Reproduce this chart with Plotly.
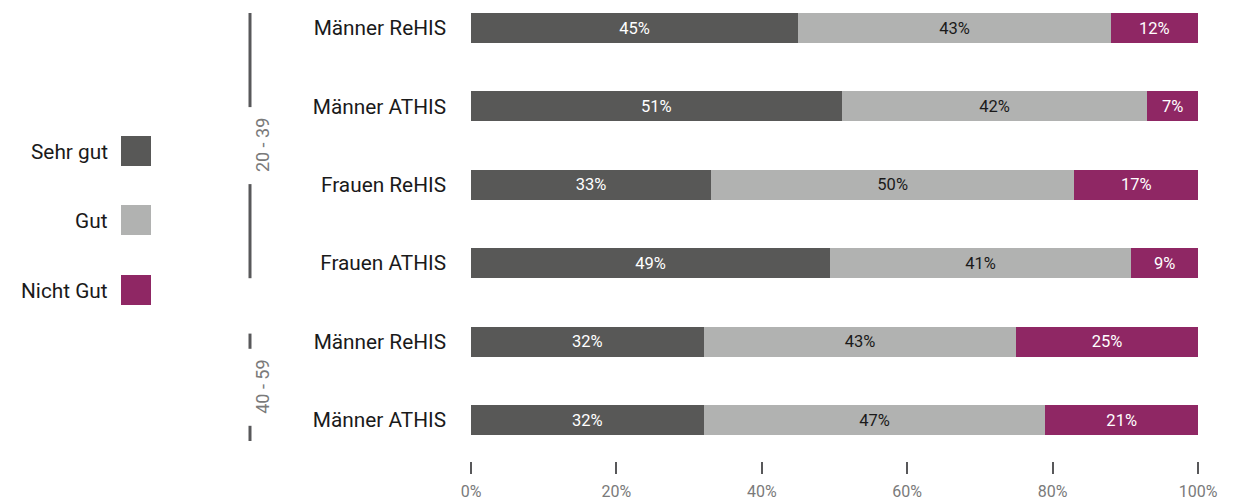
import plotly.graph_objects as go

# Survey groups, top to bottom
categories = ["Männer ReHIS", "Männer ATHIS", "Frauen ReHIS", "Frauen ATHIS",
              "Männer ReHIS", "Männer ATHIS"]
rows = list(range(len(categories)))

# Share of answers per rating (percent)
sehr_gut = [45, 51, 33, 49.4, 32, 32]
gut = [43, 42, 50, 41.4, 43, 47]
nicht_gut = [12, 7, 17, 9.2, 25, 21]

series_names = ["Sehr gut", "Gut", "Nicht Gut"]
series_colors = ["#585857", "#b1b2b1", "#8f2764"]
text_colors = ["#ffffff", "#1a1a1a", "#ffffff"]

# Age groups: (label, first row, last row)
age_groups = [("20 - 39", 0, 3), ("40 - 59", 4, 5)]

x_ticks = [0, 20, 40, 60, 80, 100]
x_tick_labels = ["0%", "20%", "40%", "60%", "80%", "100%"]

FONT = "Roboto, 'Open Sans', sans-serif"
BAR_W = 0.383

fig = go.Figure()
for name, vals, col, tcol in zip(series_names, [sehr_gut, gut, nicht_gut],
                                 series_colors, text_colors):
    fig.add_trace(go.Bar(
        y=rows, x=vals, orientation="h", name=name,
        marker=dict(color=col, line=dict(width=0)),
        width=BAR_W,
        texttemplate="%{x:.0f}%", textposition="inside",
        insidetextanchor="middle", constraintext="none",
        textfont=dict(family=FONT, size=16.5, color=tcol),
        hoverinfo="skip",
    ))

# Plot geometry in pixels (used for the hand-made legend and brackets)
L, R, T, B = 471, 50, 5, 41
W, H = 1248, 502
pw, ph = W - L - R, H - T - B


def px_x(p):
    return (p - L) / pw


def px_y(p):
    return (H - B - p) / ph


shapes, annotations = [], []

# Legend on the left: text then square swatch
legend_y = [151, 220, 290]
for name, col, cy in zip(series_names, series_colors, legend_y):
    shapes.append(dict(type="rect", xref="paper", yref="paper",
                       x0=px_x(121), x1=px_x(151), y0=px_y(cy + 15), y1=px_y(cy - 15),
                       fillcolor=col, line=dict(width=0), layer="above"))
    annotations.append(dict(xref="paper", yref="paper", x=px_x(110), y=px_y(cy + 1),
                            text=name, showarrow=False, xanchor="right", yanchor="middle",
                            font=dict(family=FONT, size=20.8, color="#1a1a1a")))

# Age group brackets: vertical line interrupted by rotated label
unit = 78.4  # pixels per row
gap = 38.5 / unit
bx = px_x(250)
offsets = {"20 - 39": (0.0, 0.0), "40 - 59": (7 / unit, 6 / unit)}
for label, r0, r1 in age_groups:
    o0, o1 = offsets[label]
    top = r0 - BAR_W / 2 + o0
    bot = r1 + BAR_W / 2 + o1
    mid = (top + bot) / 2
    for a, b in [(top, mid - gap), (mid + gap, bot)]:
        shapes.append(dict(type="line", xref="paper", yref="y", x0=bx, x1=bx,
                           y0=a, y1=b, line=dict(color="#58585a", width=3)))
    annotations.append(dict(xref="paper", yref="y", x=bx, y=mid, text=label,
                            showarrow=False, textangle=-90,
                            font=dict(family=FONT, size=18, color="#7a7a7a")))

top_px = (T - 28) / unit
bot_px = (H - B - 28) / unit

fig.update_layout(
    width=W, height=H, barmode="stack", showlegend=False,
    paper_bgcolor="white", plot_bgcolor="white",
    margin=dict(l=L, r=R, t=T, b=B, pad=0, autoexpand=False),
    font=dict(family=FONT),
    xaxis=dict(range=[0, 100], tickvals=x_ticks, ticktext=x_tick_labels,
               ticks="outside", ticklen=12, tickwidth=2, tickcolor="#58585a",
               ticklabelstandoff=4, automargin=False,
               showgrid=False, zeroline=False, showline=False,
               tickfont=dict(family=FONT, size=16, color="#7a7a7a")),
    yaxis=dict(range=[bot_px, top_px], tickvals=rows, ticktext=categories,
               showgrid=False, zeroline=False, showline=False, ticks="",
               ticklabelstandoff=24, automargin=False,
               tickfont=dict(family=FONT, size=20.8, color="#1a1a1a")),
    shapes=shapes, annotations=annotations,
)

fig.write_html("out.html")
